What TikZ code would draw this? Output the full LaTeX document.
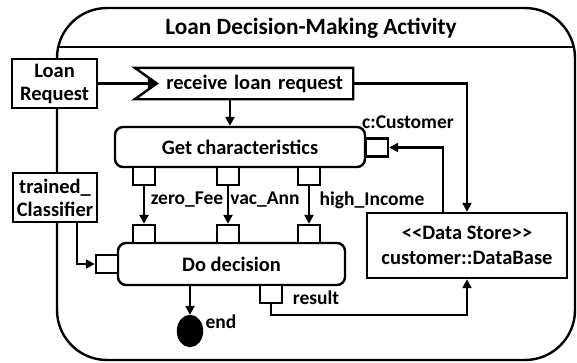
\documentclass[tikz,border=0pt]{standalone}
\usepackage{fontspec}
\setmainfont{Carlito}
\usetikzlibrary{arrows.meta,shapes.geometric}
\begin{document}
\begin{tikzpicture}[x=1pt,y=-1pt,
 lw/.style={line width=2.4pt},
 txt/.style={font=\bfseries\fontsize{20.5}{23}\selectfont},
 box/.style={draw,lw,fill=white,inner sep=0pt,txt,align=center},
 act/.style={box,rounded corners=8pt},
 pinbox/.style={draw,lw,fill=white,minimum width=22pt,minimum height=18pt,inner sep=0pt},
 flow/.style={lw,-{Triangle[length=9pt,width=9pt]}},
 lbl/.style={font=\bfseries\fontsize{19.5}{23}\selectfont,inner sep=0pt}
]
\useasboundingbox (0,0) rectangle (577,362);
% frame
\draw[lw,rounded corners=50pt] (57,8) rectangle (575,360);
\node[font=\bfseries\fontsize{23.3}{25}\selectfont] (title) at (311,28) {Loan Decision-Making Activity};
\draw[lw] (58.2,47) -- (573.8,47);
% parameter nodes
\node[box,minimum width=85pt,minimum height=49pt] (lr) at (54.5,83.5) {Loan\\Request};
\node[box,minimum width=84pt,minimum height=49pt] (tc) at (55,197.5) {trained\_\\Classifier};
% receive signal
\node[inner ysep=0pt,inner xsep=10pt,text width=198pt,align=right,minimum height=31pt,txt] (recv) at (244,83.5) {receive loan request};
\draw[lw] (recv.north west) -- (recv.north east) -- (recv.south east) -- (recv.south west) -- ([xshift=22pt]recv.west) -- cycle;
% actions
\node[act,minimum width=250pt,minimum height=40pt] (gc) at (240,147) {Get characteristics};
\node[act,minimum width=227pt,minimum height=42pt] (dd) at (231.5,264) {Do decision};
% data store
\node[box,minimum width=200pt,minimum height=65pt] (ds) at (467,245.5) {\textless\kern0pt\textless Data Store\textgreater\kern0pt\textgreater\\[2pt]customer::DataBase};
% pins
\node[pinbox] (cc) at (377,147.5) {};
\node[pinbox] (dl) at (107,264) {};
\node[pinbox] (op1) at (144,176) {};
\node[pinbox] (op2) at (228,176) {};
\node[pinbox] (op3) at (309,176) {};
\node[pinbox] (ip1) at (144,234) {};
\node[pinbox] (ip2) at (228,234) {};
\node[pinbox] (ip3) at (309,234) {};
\node[pinbox] (res) at (271,294) {};
% final node
\node[ellipse,fill=black,draw,lw,minimum width=24pt,minimum height=30pt,inner sep=0pt] (endn) at (190,331) {};
% labels
\node[lbl] (lcc) at (408,122) {c:Customer};
\node[lbl] (l1) at (187,200) {zero\_Fee};
\node[lbl] (l2) at (265,200) {vac\_Ann};
\node[lbl] (l3) at (372,200) {high\_Income};
\node[lbl] (lres) at (316,298) {result};
\node[lbl] (lend) at (221,322) {end};
% flows
\draw[flow] (lr.east) -- ([xshift=22pt]recv.west);
\draw[flow] ([xshift=-14pt]recv.south) -- ([xshift=-14pt]recv.south |- gc.north);
\draw[flow] (recv.east) -| (ds.north);
\draw[flow] ([xshift=-24pt]ds.north) |- (cc.east);
\draw[flow] (op1.south) -- (ip1.north);
\draw[flow] (op2.south) -- (ip2.north);
\draw[flow] (op3.south) -- (ip3.north);
\draw[flow] ([xshift=22pt]tc.south) |- (dl.west);
\draw[flow] (endn.north |- dd.south) -- (endn.north);
\coordinate (rb) at (271,315);
\draw[flow] (res.south) -- (rb) -| (ds.south);
\end{tikzpicture}
\end{document}
